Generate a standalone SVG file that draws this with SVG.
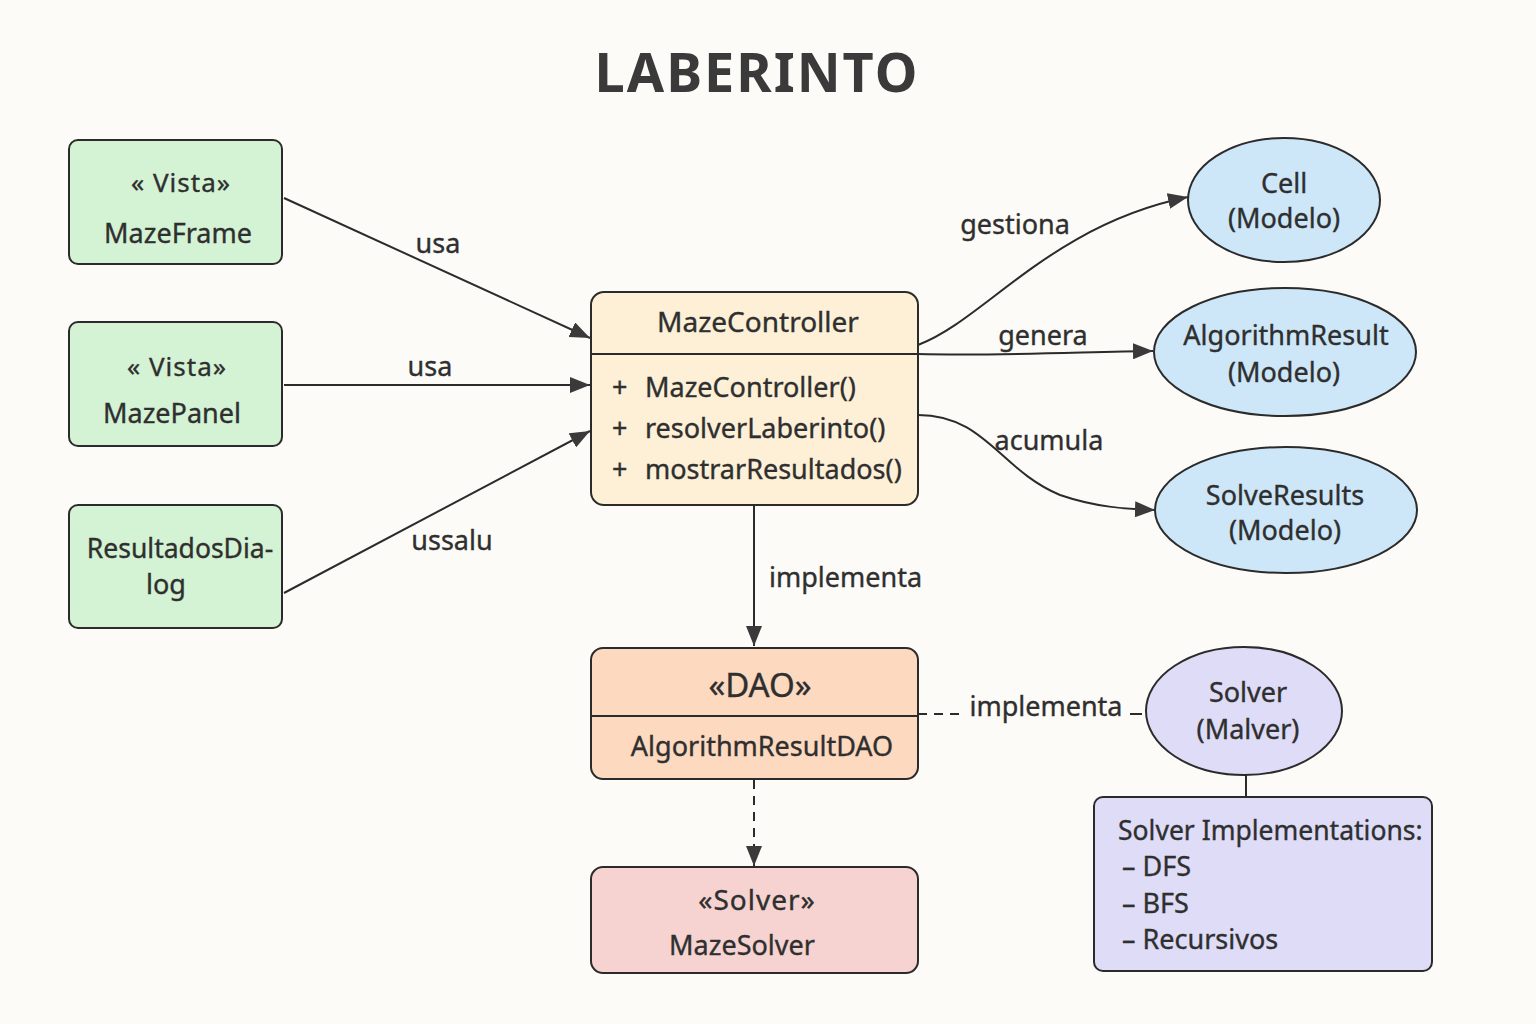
<svg xmlns="http://www.w3.org/2000/svg" width="1536" height="1024" viewBox="0 0 1536 1024">
<defs>
<style>
text{font-family:"Noto Sans","Open Sans","DejaVu Sans",sans-serif;fill:#2f2f2f;stroke:#2f2f2f;stroke-width:0.35px;}
.t{font-size:27px;}
.c{text-anchor:middle;}
.box{stroke:#2b2b2b;stroke-width:2;}
.ln{fill:none;stroke:#2b2b2b;stroke-width:2;}
.dash{stroke-dasharray:9 7;}
.green{fill:#d4f2d4;}
.blue{fill:#cde7f9;}
.purple{fill:#dedcf7;}
</style>
<marker id="arB" viewBox="0 0 20 16" refX="20" refY="8" markerWidth="20" markerHeight="16" markerUnits="userSpaceOnUse" orient="auto">
<path d="M0,0 L20,8 L0,16 z" fill="#3a3a3a"/>
</marker>
</defs>
<rect width="1536" height="1024" fill="#fdfbf8"/>
<text x="757" y="92" class="c" style="font-size:54px;font-weight:bold;letter-spacing:2px;fill:#3a3a3a;stroke:none">LABERINTO</text>

<g id="connectors">
<path class="ln" d="M284,198 L590,338" marker-end="url(#arB)"/>
<path class="ln" d="M284,385 L590,385" marker-end="url(#arB)"/>
<path class="ln" d="M284,593 L590,431" marker-end="url(#arB)"/>
<path class="ln" d="M918,345 C985,320 1050,225 1188,197" marker-end="url(#arB)"/>
<path class="ln" d="M918,354 C1000,356 1080,352 1153,351" marker-end="url(#arB)"/>
<path class="ln" d="M918,415 C985,415 1000,470 1060,495 C1095,507 1125,509 1155,510" marker-end="url(#arB)"/>
<path class="ln" d="M754,506 L754,646" marker-end="url(#arB)"/>
<path class="ln dash" d="M754,780 L754,866" marker-end="url(#arB)"/>
<path class="ln dash" d="M918,714 L962,714"/>
<path class="ln" d="M1130,714 L1142,714"/>
<path class="ln" d="M1246,775 L1246,797"/>
<text x="438" y="253" class="t c">usa</text>
<text x="430" y="376" class="t c">usa</text>
<text x="452" y="550" class="t c">ussalu</text>
<text x="1015" y="234" class="t c">gestiona</text>
<text x="1043" y="345" class="t c">genera</text>
<text x="1049" y="450" class="t c">acumula</text>
<text x="769" y="587" class="t">implementa</text>
<text x="1046" y="716" class="t c">implementa</text>
</g>

<g id="mazeframe">
<rect x="69" y="140" width="213" height="124" rx="9" class="box green"/>
<text x="181" y="192" class="c" style="font-size:26px;letter-spacing:1px">« Vista»</text>
<text x="178" y="243" class="t c">MazeFrame</text>
</g>
<g id="mazepanel">
<rect x="69" y="322" width="213" height="124" rx="9" class="box green"/>
<text x="177" y="376" class="c" style="font-size:26px;letter-spacing:1px">« Vista»</text>
<text x="172" y="423" class="t c">MazePanel</text>
</g>
<g id="resultadosdialog">
<rect x="69" y="505" width="213" height="123" rx="9" class="box green"/>
<text x="180" y="558" class="c" style="font-size:26.5px">ResultadosDia-</text>
<text x="166" y="594" class="t c">log</text>
</g>

<g id="mazecontroller">
<rect x="591" y="292" width="327" height="213" rx="13" class="box" fill="#fdf0d7"/>
<line x1="591" y1="354" x2="918" y2="354" class="ln"/>
<text x="758" y="332" class="c" style="font-size:28px">MazeController</text>
<text x="612" y="397" class="t">+</text>
<text x="645" y="397" class="t">MazeController()</text>
<text x="612" y="438" class="t">+</text>
<text x="645" y="438" class="t">resolverLaberinto()</text>
<text x="612" y="479" class="t">+</text>
<text x="645" y="479" class="t">mostrarResultados()</text>
</g>

<g id="dao">
<rect x="591" y="648" width="327" height="131" rx="12" class="box" fill="#fdd9bf"/>
<line x1="591" y1="716" x2="918" y2="716" class="ln"/>
<text x="760" y="697" class="c" style="font-size:33px">«DAO»</text>
<text x="762" y="756" class="t c">AlgorithmResultDAO</text>
</g>

<g id="mazesolver">
<rect x="591" y="867" width="327" height="106" rx="12" class="box" fill="#f6d3d1"/>
<text x="757" y="910" class="c" style="font-size:28px;letter-spacing:1px">«Solver»</text>
<text x="742" y="955" class="t c">MazeSolver</text>
</g>

<g id="cell">
<ellipse cx="1284" cy="200" rx="96" ry="62" class="box blue"/>
<text x="1284" y="193" class="t c">Cell</text>
<text x="1284" y="228" class="t c">(Modelo)</text>
</g>
<g id="algorithmresult">
<ellipse cx="1285" cy="352" rx="131" ry="64" class="box blue"/>
<text x="1286" y="345" class="t c">AlgorithmResult</text>
<text x="1284" y="382" class="t c">(Modelo)</text>
</g>
<g id="solveresults">
<ellipse cx="1286" cy="510" rx="131" ry="63" class="box blue"/>
<text x="1285" y="505" class="t c">SolveResults</text>
<text x="1285" y="540" class="t c">(Modelo)</text>
</g>
<g id="solver">
<ellipse cx="1244" cy="711" rx="98" ry="64" class="box purple"/>
<text x="1248" y="702" class="t c">Solver</text>
<text x="1248" y="739" class="t c">(Malver)</text>
</g>
<g id="solverimpl">
<rect x="1094" y="797" width="338" height="174" rx="9" class="box purple"/>
<text x="1118" y="840" style="font-size:26.5px">Solver Implementations:</text>
<text x="1122" y="876" class="t">– DFS</text>
<text x="1122" y="913" class="t">– BFS</text>
<text x="1122" y="949" class="t">– Recursivos</text>
</g>
</svg>
